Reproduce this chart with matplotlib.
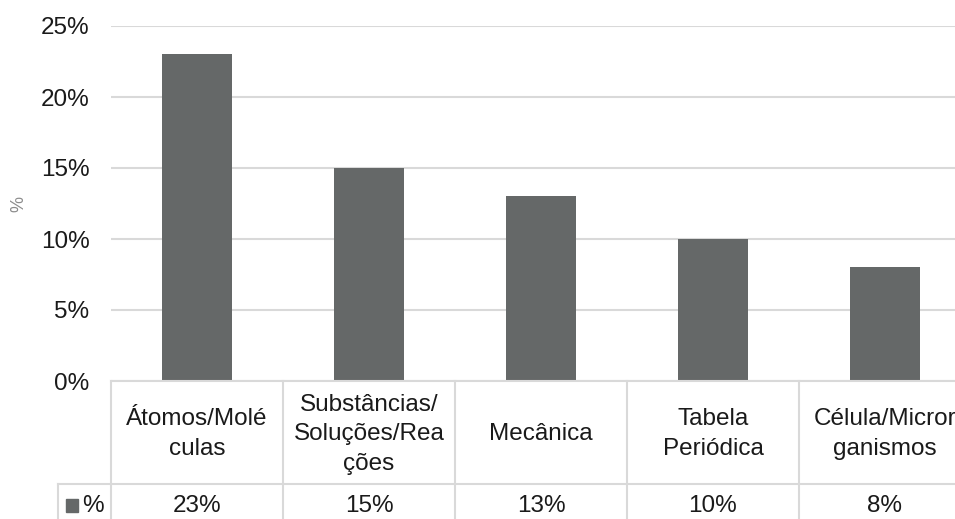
import matplotlib.pyplot as plt
from matplotlib.patches import Rectangle

# Topics and their share
categories = ["Átomos/Molé\nculas", "Substâncias/\nSoluções/Rea\nções", "Mecânica",
              "Tabela\nPeriódica", "Célula/Micror\nganismos"]
values = [23, 15, 13, 10, 8]
yticks = [0, 5, 10, 15, 20, 25]
series_name = "%"

bar_color = "#656868"
grid_color = "#d9d9d9"
text_color = "#1a1a1a"
fs = 17.5

plt.rcParams["font.family"] = ["Liberation Sans", "DejaVu Sans"]

fig = plt.figure(figsize=(9.55, 5.19), dpi=100)
W, H = 955, 519

# Plot area (right edge runs past the figure)
left_px, right_px, top_px, bottom_px = 111, 971, 26, 381
ax = fig.add_axes([left_px / W, (H - bottom_px) / H,
                   (right_px - left_px) / W, (bottom_px - top_px) / H])

x = range(len(categories))
ax.bar(x, values, width=0.41, color=bar_color, zorder=3)

ax.set_xlim(-0.5, len(categories) - 0.5)
ax.set_ylim(0, 25)
ax.set_yticks(yticks)
ax.set_yticklabels([f"{t}%" for t in yticks], fontsize=fs, color=text_color)
ax.tick_params(axis="y", length=0, pad=15.5)
ax.set_xticks([])
ax.yaxis.grid(True, color=grid_color, linewidth=1.5, zorder=0)
for s in ax.spines.values():
    s.set_visible(False)

ax.set_ylabel("%", fontsize=13, color="#8c8c8c")
ax.yaxis.set_label_coords(-0.097, 0.5)

# Data table under the axis
tr = ax.get_xaxis_transform()
ax_h = bottom_px - top_px
row1 = -(484 - bottom_px) / ax_h
row2 = -(H + 5 - bottom_px) / ax_h
lw = 1.5

# horizontal rules
ax.plot([-0.5, len(categories) - 0.5], [0, 0], transform=tr, color=grid_color,
        lw=lw, clip_on=False, zorder=4)
legend_left = -0.5 - (111 - 58) / 172
ax.plot([legend_left, len(categories) - 0.5], [row1, row1], transform=tr,
        color=grid_color, lw=lw, clip_on=False)
# vertical rules
for i in range(len(categories) + 1):
    ax.plot([i - 0.5, i - 0.5], [0, row2], transform=tr, color=grid_color,
            lw=lw, clip_on=False)
ax.plot([legend_left, legend_left], [row1, row2], transform=tr,
        color=grid_color, lw=lw, clip_on=False)

for i, (cat, v) in enumerate(zip(categories, values)):
    ax.text(i, row1 / 2 - 0.005, cat, transform=tr, ha="center", va="center",
            fontsize=fs, color=text_color, linespacing=1.45)
    ax.text(i, (row1 + row2) / 2 - 0.005, f"{v}%", transform=tr, ha="center",
            va="center", fontsize=fs, color=text_color)

# legend key in the value row
key_y = (row1 + row2) / 2 - 0.005
ax.add_patch(Rectangle((legend_left + 0.045, key_y - 0.018), 0.07, 0.036,
                       transform=tr, color=bar_color, clip_on=False))
ax.text(legend_left + 0.14, key_y, series_name, transform=tr, ha="left",
        va="center", fontsize=fs, color=text_color)

fig.savefig("out.png", dpi=100)
